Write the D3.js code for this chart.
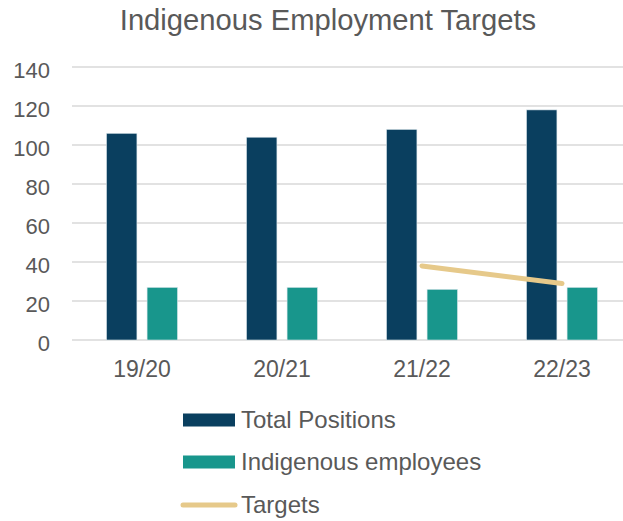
<!DOCTYPE html>
<meta charset="utf-8">
<head>
  <title>Indigenous Employment Targets</title>
  <script src="https://cdn.jsdelivr.net/npm/d3@7"></script>
  <style>
    body { margin: 0; background: #fff; }
    text { font-family: "Liberation Sans", Arial, sans-serif; fill: #595959; }
    .grid line { stroke: #d9d9d9; stroke-width: 1.5px; }
  </style>
</head>
<body>
  <svg width="623" height="521"></svg>
  <script>
    const years = ["19/20", "20/21", "21/22", "22/23"];
    const totalPositions = [106, 104, 108, 118];
    const indigenousEmployees = [27, 27, 26, 27];
    const targets = [null, null, 38, 29];
    const yTicks = [0, 20, 40, 60, 80, 100, 120, 140];

    const colors = { total: "#0a3f5f", indig: "#18968c", target: "#e6c98a" };

    const svg = d3.select("svg");
    const plotLeft = 72, plotRight = 632, plotTop = 67, plotBottom = 340;

    const x = d3.scaleBand().domain(years).range([plotLeft, plotRight]);
    const y = d3.scaleLinear().domain([0, 140]).range([plotBottom, plotTop]);

    // title
    svg.append("text")
      .attr("x", 328).attr("y", 30)
      .attr("text-anchor", "middle")
      .attr("font-size", 29.2)
      .text("Indigenous Employment Targets");

    // gridlines
    svg.append("g").attr("class", "grid")
      .selectAll("line")
      .data(yTicks)
      .enter().append("line")
        .attr("x1", plotLeft).attr("x2", plotRight)
        .attr("y1", d => y(d)).attr("y2", d => y(d));

    // y labels
    svg.append("g")
      .selectAll("text")
      .data(yTicks)
      .enter().append("text")
        .attr("x", 50)
        .attr("y", d => y(d) + 10.6)
        .attr("text-anchor", "end")
        .attr("font-size", 22)
        .text(d => d);

    // x labels
    svg.append("g")
      .selectAll("text")
      .data(years)
      .enter().append("text")
        .attr("x", d => x(d) + x.bandwidth() / 2)
        .attr("y", 377)
        .attr("text-anchor", "middle")
        .attr("font-size", 23)
        .text(d => d);

    const inner = d3.scaleBand().domain(["total", "indig"])
      .range([0, 71]).paddingInner(0.25);
    const groupOffset = (x.bandwidth() - 71) / 2;

    const bars = [];
    years.forEach((yr, i) => {
      bars.push({ yr: yr, key: "total", v: totalPositions[i] });
      bars.push({ yr: yr, key: "indig", v: indigenousEmployees[i] });
    });

    svg.append("g")
      .selectAll("rect")
      .data(bars)
      .enter().append("rect")
        .attr("x", d => x(d.yr) + groupOffset + inner(d.key))
        .attr("y", d => y(d.v))
        .attr("width", inner.bandwidth())
        .attr("height", d => y(0) - y(d.v))
        .attr("fill", d => colors[d.key])
        .attr("stroke", "#dbe6ec")
        .attr("stroke-width", 0.6);

    // target line
    const line = d3.line()
      .defined(d => d.v != null)
      .x(d => x(d.yr) + x.bandwidth() / 2)
      .y(d => y(d.v));

    svg.append("path")
      .datum(years.map((yr, i) => ({ yr: yr, v: targets[i] })))
      .attr("d", line)
      .attr("fill", "none")
      .attr("stroke", colors.target)
      .attr("stroke-width", 5)
      .attr("stroke-linecap", "round");

    // legend
    const legend = [
      { label: "Total Positions", key: "total", type: "rect", cy: 420 },
      { label: "Indigenous employees", key: "indig", type: "rect", cy: 462 },
      { label: "Targets", key: "target", type: "line", cy: 505 }
    ];
    const lg = svg.append("g").selectAll("g").data(legend).enter().append("g");
    lg.filter(d => d.type === "rect").append("rect")
      .attr("x", 183).attr("y", d => d.cy - 6.5)
      .attr("width", 52).attr("height", 13)
      .attr("fill", d => colors[d.key]);
    lg.filter(d => d.type === "line").append("line")
      .attr("x1", 183).attr("x2", 235)
      .attr("y1", d => d.cy).attr("y2", d => d.cy)
      .attr("stroke", d => colors[d.key])
      .attr("stroke-width", 5)
      .attr("stroke-linecap", "round");
    lg.append("text")
      .attr("x", 241)
      .attr("y", d => d.cy + 8.2)
      .attr("font-size", 24)
      .text(d => d.label);
  </script>
</body>
